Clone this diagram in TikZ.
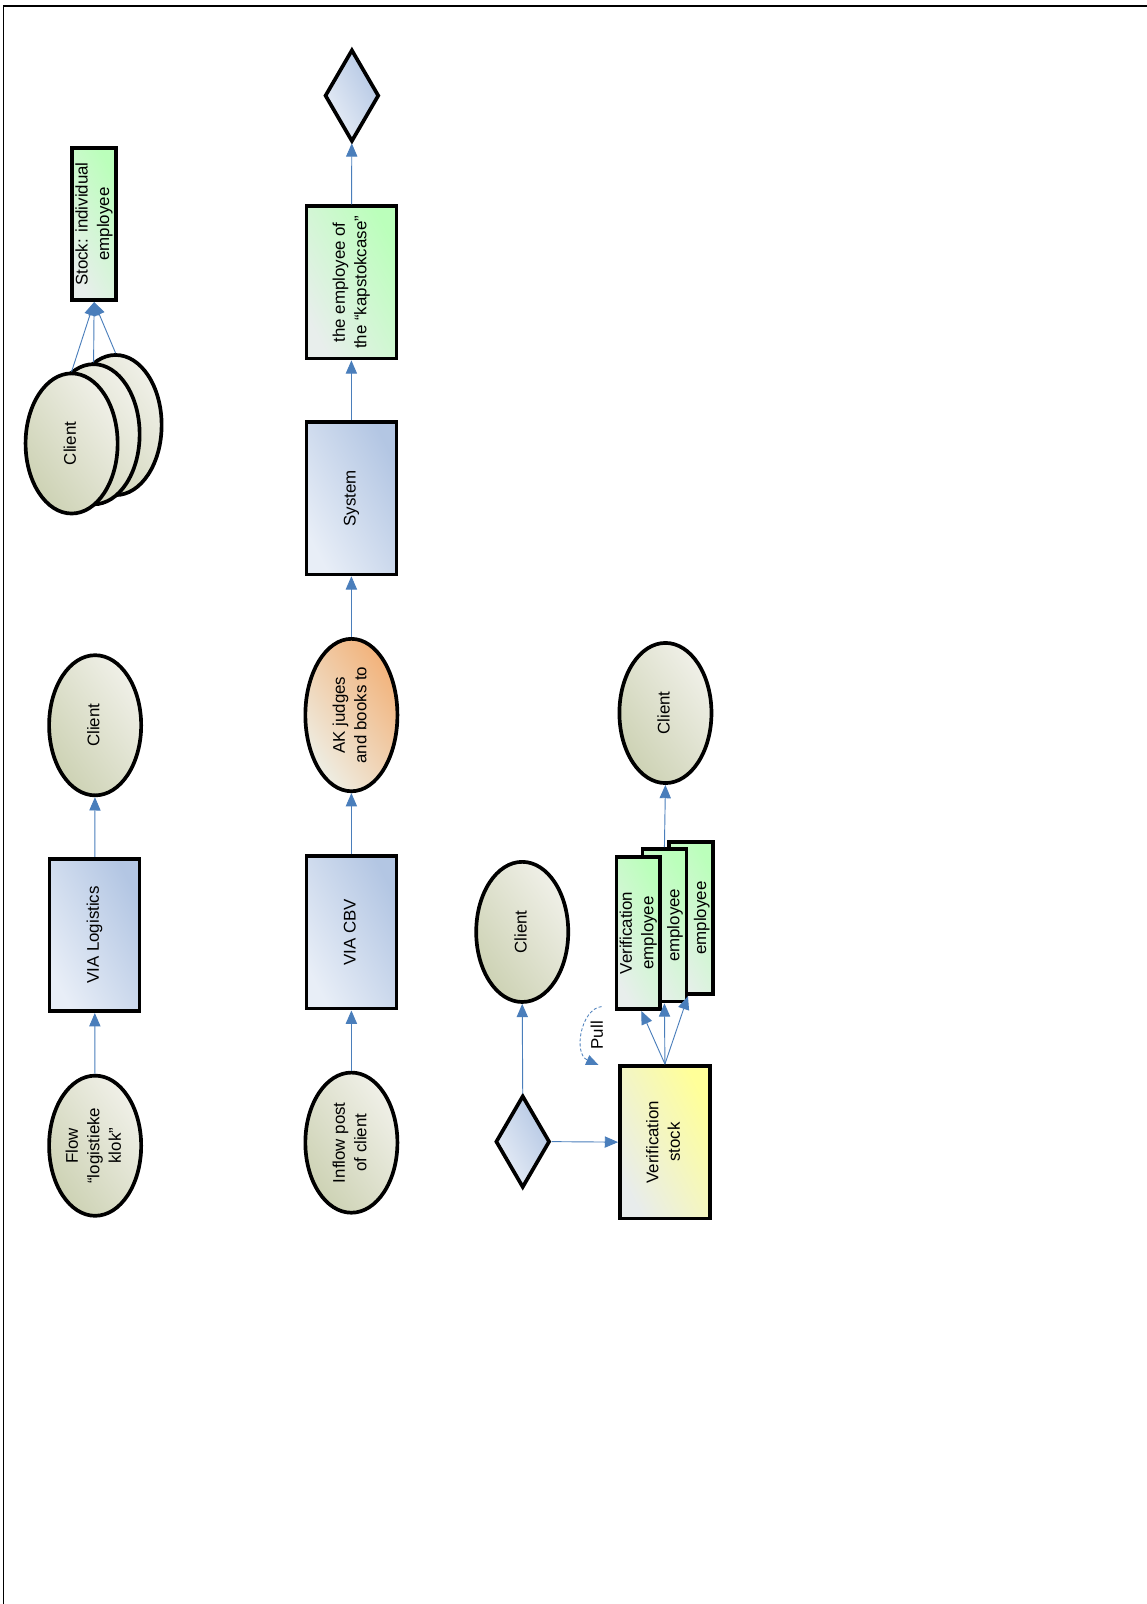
\documentclass[tikz,border=0pt]{standalone}
\usepackage{fontspec}
\setmainfont{Liberation Sans}
\usepackage{graphicx}
\usetikzlibrary{shapes.geometric,arrows.meta}
\definecolor{conn}{HTML}{4A7EBB}
\definecolor{bluedark}{HTML}{B3C6E3}
\definecolor{bluelight}{HTML}{E8EEF7}
\definecolor{olivedark}{HTML}{CDD2B4}
\definecolor{olivelight}{HTML}{F0F0E8}
\definecolor{greendark}{HTML}{BBFFBB}
\definecolor{greenlight}{HTML}{E8EEEC}
\definecolor{orangedark}{HTML}{F2B27A}
\definecolor{orangelight}{HTML}{EEEEE4}
\definecolor{yellowdark}{HTML}{FFFF99}
\definecolor{yellowlight}{HTML}{E8ECEC}
\newcommand{\rtxt}[1]{\rotatebox{90}{\begin{tabular}{@{}c@{}}#1\end{tabular}}}
\begin{document}
\begin{tikzpicture}[x=1pt,y=-1pt,
  txt/.style={font=\fontsize{16.5}{21}\selectfont, inner sep=0pt},
  shp/.style={txt, draw=black, line width=3.6pt},
  bigbox/.style={shp, rectangle, minimum width=88pt, minimum height=149pt},
  thinbox/.style={shp, rectangle, minimum width=43pt, minimum height=149pt},
  oval/.style={shp, ellipse, minimum width=90pt, minimum height=137pt},
  dia/.style={shp, diamond, minimum width=53pt, minimum height=90pt, bluefill},
  bluefill/.style={top color=bluedark, middle color=bluedark!85!bluelight, bottom color=bluelight, shading angle=-62},
  olivefill/.style={top color=olivelight, middle color=olivelight!55!olivedark, bottom color=olivedark, shading angle=-55},
  greenfill/.style={top color=greendark, middle color=greendark!85!greenlight, bottom color=greenlight, shading angle=-62},
  orangefill/.style={top color=orangedark, middle color=orangedark!60!orangelight, bottom color=orangelight, shading angle=-55},
  yellowfill/.style={top color=yellowdark, middle color=yellowdark!85!yellowlight, bottom color=yellowlight, shading angle=-62},
  flow/.style={draw=conn, line width=0.9pt, -{Triangle[length=13pt,width=11pt]}}
]
\useasboundingbox (0,0) rectangle (1121,1568);
% frame
\coordinate (fa) at (3,6);
\coordinate (fb) at (1121,6);
\coordinate (fc) at (3,1568);
\draw[line width=2.4pt] (fa) -- (fb);
\draw[line width=1.1pt] (fa) -- (fc);

% column 1
\node[oval, olivefill] (flow) at (93,1120) {\rtxt{Flow\\“logistieke\\klok”}};
\node[bigbox, bluefill] (vial) at (92.5,914) {\rtxt{VIA Logistics}};
\node[oval, olivefill] (cl1) at (93,709) {\rtxt{Client}};
\node[oval, olivefill] (cs3) at (113,415.5) {};
\node[oval, olivefill] (cs2) at (91.5,424.5) {};
\node[oval, olivefill] (cs1) at (70,433.5) {\rtxt{Client}};
\node[thinbox, greenfill] (stock) at (92,219) {\rtxt{Stock: individual\\employee}};
\draw[flow] (flow) -- (vial);
\draw[flow] (vial) -- (cl1);
\draw[flow] (cs1.north) -- (stock.south);
\draw[flow] (cs2.north) -- (stock.south);
\draw[flow] (cs3.north) -- (stock.south);

% column 2
\node[oval, olivefill] (inflow) at (343.5,1117) {\rtxt{Inflow post\\of client}};
\node[bigbox, bluefill] (cbv) at (343.5,911.5) {\rtxt{VIA CBV}};
\node[oval, orangefill, minimum height=149pt] (ak) at (343.5,699) {\rtxt{AK judges\\and books to}};
\node[bigbox, bluefill] (sys) at (343.5,487) {\rtxt{System}};
\node[bigbox, greenfill] (kap) at (343.5,276) {\rtxt{the employee of\\the “kapstokcase”}};
\node[dia] (d1) at (344,93.5) {};
\draw[flow] (inflow) -- (cbv);
\draw[flow] (cbv) -- (ak);
\draw[flow] (ak) -- (sys);
\draw[flow] (sys) -- (kap);
\draw[flow] (kap) -- (d1);

% column 3
\node[dia] (d2) at (511,1116) {};
\node[oval, olivefill] (cl3) at (510.5,911) {\rtxt{Client}};
\node[bigbox, yellowfill] (vs) at (650,1116.5) {\rtxt{Verification\\stock}};
\node[thinbox, greenfill] (e3) at (675.5,897.5) {\rtxt{\phantom{Verification}\\employee}};
\node[thinbox, greenfill] (e2) at (649.5,904.5) {\rtxt{\phantom{Verification}\\employee}};
\node[thinbox, greenfill] (e1) at (624,912) {\rtxt{Verification\\employee}};
\node[oval, olivefill] (cl4) at (650.5,697) {\rtxt{Client}};
\draw[flow] (d2.east) -- (vs.west);
\draw[flow] (d2.north) -- (cl3.south);
\draw[flow] (vs.north) -- ([xshift=3pt]e1.south);
\draw[flow] (vs.north) -- (e2.south);
\draw[flow] (vs.north) -- ([xshift=-3pt]e3.south);
\draw[flow] (e2.north) -- (cl4.south);

% pull
\coordinate (pa) at (588,984);
\coordinate (pb) at (585,1041);
\draw[draw=conn, line width=0.8pt, dash pattern=on 3pt off 2pt, -{Triangle[length=12pt,width=10pt]}]
  (pa) .. controls (568,986) and (560,1030) .. (pb);
\node[txt] (pull) at (583.5,1012) {\rotatebox{90}{Pull}};
\end{tikzpicture}
\end{document}
